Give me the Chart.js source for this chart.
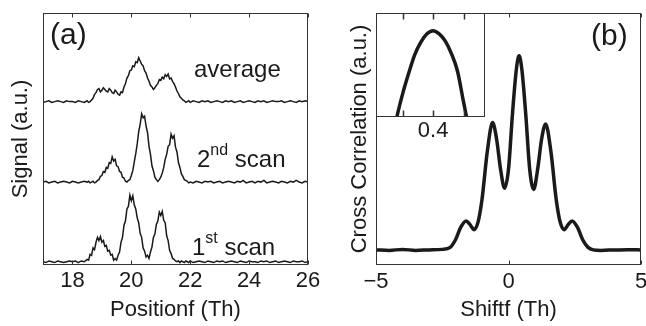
<!DOCTYPE html>
<html>
<head>
<meta charset="utf-8">
<script src="https://cdn.jsdelivr.net/npm/chart.js@4.4.0/dist/chart.umd.min.js"></script>
<style>
html, body { margin: 0; padding: 0; background: #fff; overflow: hidden; }
#wrap { position: relative; width: 646px; height: 326px; overflow: hidden; }
canvas { position: absolute; left: 0; top: 0; }
.lbl { position: absolute; font-family: "Liberation Sans", Arial, Helvetica, sans-serif; color: #1a1a1a; line-height: 1; white-space: nowrap; }
.lbl span { font-size: 16px; vertical-align: 12px; }
</style>
</head>
<body>
<div id="wrap">
  <canvas id="chartA" width="646" height="326"></canvas>
  <canvas id="chartB" width="656" height="326"></canvas>
  <canvas id="chartInset" width="646" height="326"></canvas>
  <div class="lbl" style="left:50px;top:19px;font-size:30px">(a)</div>
  <div class="lbl" style="left:591px;top:20px;font-size:30px">(b)</div>
  <div class="lbl" style="left:194px;top:57px;font-size:24px">average</div>
  <div class="lbl" style="left:197px;top:142px;font-size:24px">2<span>nd</span> scan</div>
  <div class="lbl" style="left:192px;top:230px;font-size:24px">1<span>st</span> scan</div>
</div>
<script>
// ---- panel (a): position axis and the three scans (height above each trace's own baseline)
// coarse sampling on the flat parts, finer across the peaks
const posX = [
  17.0, 17.1, 17.2, 17.3, 17.4, 17.5, 17.6, 17.7, 17.8, 17.9, 18.0, 18.1, 18.2, 18.3, 18.4,
  18.50, 18.55, 18.60, 18.65, 18.70, 18.75, 18.80, 18.85, 18.90, 18.95,
  19.00, 19.05, 19.10, 19.15, 19.20, 19.25, 19.30, 19.35, 19.40, 19.45,
  19.50, 19.55, 19.60, 19.65, 19.70, 19.75, 19.80, 19.85, 19.90, 19.95,
  20.00, 20.05, 20.10, 20.15, 20.20, 20.25, 20.30, 20.35, 20.40, 20.45,
  20.50, 20.55, 20.60, 20.65, 20.70, 20.75, 20.80, 20.85, 20.90, 20.95,
  21.00, 21.05, 21.10, 21.15, 21.20, 21.25, 21.30, 21.35, 21.40, 21.45,
  21.50, 21.55, 21.60, 21.65, 21.70, 21.75, 21.80, 21.85, 21.90, 21.95,
  22.00,
  22.1, 22.2, 22.3, 22.4, 22.5, 22.6, 22.7, 22.8, 22.9,
  23.0, 23.1, 23.2, 23.3, 23.4, 23.5, 23.6, 23.7, 23.8, 23.9,
  24.0, 24.1, 24.2, 24.3, 24.4, 24.5, 24.6, 24.7, 24.8, 24.9,
  25.0, 25.1, 25.2, 25.3, 25.4, 25.5, 25.6, 25.7, 25.8, 25.9,
  26.0
];
const scan1 = [
  .01, .00, .02, .01, .00, .02, .01, .00, .01, .02, .01, .02, .00, .02, .01,
  .04, .03, .10, .09, .18, .16, .25, .31, .27, .32,
  .25, .27, .20, .21, .14, .15, .09, .10, .03, .05,
  .03, .09, .13, .25, .31, .46, .51, .66, .69, .83,
  .76, .82, .71, .66, .55, .49, .36, .31, .18, .14,
  .07, .09, .05, .13, .19, .31, .35, .47, .51, .62,
  .58, .63, .52, .49, .33, .27, .15, .11, .05, .04,
  .02, .01, .02, .00, .02, .01, .00, .02, .01, .00,
  .02,
  .00, .01, .02, .01, .00, .02, .01, .00, .02,
  .01, .02, .00, .01, .02, .01, .00, .02, .01, .00,
  .02, .01, .01, .00, .02, .01, .02, .00, .01, .02,
  .00, .01, .02, .01, .00, .02, .01, .01, .02, .00,
  .01
];
const scan2 = [
  .01, .02, .00, .01, .02, .00, .01, .02, .01, .00, .02, .01, .00, .01, .02,
  .01, .02, .00, .01, .02, .00, .01, .03, .04, .08,
  .09, .14, .13, .19, .18, .25, .24, .32, .27, .29,
  .21, .20, .14, .13, .07, .06, .02, .01, .03, .04,
  .09, .15, .26, .36, .48, .63, .72, .85, .80, .82,
  .70, .62, .45, .35, .21, .15, .07, .04, .02, .04,
  .07, .12, .19, .29, .35, .45, .47, .60, .55, .58,
  .44, .38, .25, .19, .11, .08, .04, .03, .02, .00,
  .01,
  .00, .02, .01, .00, .02, .01, .02, .00, .01,
  .02, .00, .01, .02, .01, .00, .02, .01, .03, .00,
  .01, .02, .00, .02, .01, .03, .00, .01, .02, .01,
  .00, .02, .01, .00, .02, .01, .03, .01, .00, .02,
  .01
];
const average = [
  .00, .01, .02, .00, .01, .02, .01, .00, .02, .01, .01, .00, .02, .01, .00,
  .02, .00, .01, .03, .05, .10, .12, .16, .17, .13,
  .15, .18, .16, .14, .13, .17, .15, .12, .11, .15,
  .13, .10, .09, .13, .12, .19, .23, .30, .33, .39,
  .40, .45, .44, .50, .49, .55, .51, .47, .45, .39,
  .36, .30, .26, .21, .19, .16, .18, .21, .23, .28,
  .27, .31, .29, .34, .32, .35, .29, .30, .26, .23,
  .19, .14, .11, .07, .05, .03, .02, .00, .01, .02,
  .00,
  .02, .01, .00, .02, .01, .02, .00, .01, .02,
  .01, .00, .02, .01, .02, .00, .01, .02, .00, .01,
  .02, .01, .00, .02, .01, .02, .00, .01, .02, .01,
  .01, .02, .00, .01, .02, .01, .00, .02, .01, .02,
  .01
];
const scanBaselines = [0.03, 1.01, 2.0];   // 1st, 2nd, average
const posTicks = [18, 20, 22, 24, 26];

// ---- panel (b): cross correlation vs shift
const shiftX = [-5, -4.5, -4, -3.5, -3, -2.5, -2.2, -2.0, -1.8, -1.6, -1.45, -1.3, -1.15, -1.0, -0.8, -0.6,
  -0.45, -0.3, -0.15, 0.0, 0.15, 0.3, 0.4, 0.5, 0.65, 0.8, 0.95, 1.1, 1.25, 1.4, 1.6, 1.8, 1.95, 2.1,
  2.25, 2.4, 2.6, 2.8, 3.0, 3.2, 3.5, 4, 4.5, 5];
const crossCorr = [.060, .058, .062, .058, .060, .062, .070, .100, .150, .175, .160, .140, .170, .260, .450, .565,
  .500, .380, .305, .380, .600, .780, .830, .780, .600, .380, .300, .380, .500, .560, .450, .260, .170, .140,
  .160, .175, .150, .100, .070, .060, .058, .060, .061, .060];
const shiftTicks = [-5, 0, 5];

// ---- inset: zoom on the main peak
const insetX = [0.26, 0.28, 0.30, 0.32, 0.34, 0.36, 0.38, 0.40, 0.42, 0.44, 0.46, 0.48, 0.50, 0.52, 0.54];
const insetY = [-0.35, -0.02, 0.22, 0.42, 0.60, 0.72, 0.80, 0.83, 0.80, 0.73, 0.61, 0.44, 0.14, -0.14, -0.35];
const insetTicks = [0.3, 0.4, 0.5];

Chart.defaults.font.family = '"Liberation Sans", Arial, Helvetica, sans-serif';
Chart.defaults.font.size = 22;
Chart.defaults.color = '#1a1a1a';

const ink = '#1a1a1a';

// box around the plot area + inward tick marks on top and bottom
const frame = {
  id: 'frame',
  beforeDraw(chart, args, opts) {
    if (!opts.fill) return;
    const {ctx, chartArea: a} = chart;
    ctx.save();
    ctx.fillStyle = '#fff';
    ctx.fillRect(a.left, a.top, a.right - a.left, a.bottom - a.top);
    ctx.restore();
  },
  afterDraw(chart, args, opts) {
    const {ctx, chartArea: a, scales: {x}} = chart;
    const len = opts.tickLen || 4;
    const L = Math.round(a.left) + 0.5, R = Math.round(a.right) - 0.5;
    const T = Math.round(a.top) + 0.5, B = Math.round(a.bottom) - 0.5;
    ctx.save();
    ctx.strokeStyle = '#333';
    ctx.lineWidth = 1;
    ctx.strokeRect(L, T, R - L, B - T);
    ctx.beginPath();
    x.ticks.forEach(t => {
      const px = Math.round(x.getPixelForValue(t.value)) + 0.5;
      ctx.moveTo(px, B); ctx.lineTo(px, B - len);
      ctx.moveTo(px, T); ctx.lineTo(px, T + len);
    });
    ctx.lineWidth = opts.tickWidth || 1;
    ctx.stroke();
    ctx.restore();
  }
};

const xy = (xs, ys, off = 0) => xs.map((x, i) => ({x, y: ys[i] + off}));

const noUi = {legend: {display: false}, tooltip: {enabled: false}};

new Chart(document.getElementById('chartA'), {
  type: 'line',
  data: {
    datasets: [
      {data: xy(posX, scan1, scanBaselines[0])},
      {data: xy(posX, scan2, scanBaselines[1])},
      {data: xy(posX, average, scanBaselines[2])}
    ]
  },
  options: {
    responsive: false,
    animation: false,
    layout: {padding: {left: 0, top: 13, right: 338, bottom: 0}},
    elements: {point: {radius: 0}, line: {borderWidth: 1.5, borderColor: ink, tension: 0}},
    plugins: {...noUi, frame: {tickLen: 4}},
    scales: {
      x: {
        type: 'linear', min: 17, max: 26,
        grid: {display: false, drawTicks: false}, border: {display: false},
        afterBuildTicks: s => { s.ticks = posTicks.map(v => ({value: v})); },
        afterFit: s => { s.height = 61; },
        ticks: {padding: 3},
        title: {display: true, text: 'Positionf (Th)', padding: {top: 0, bottom: 3}}
      },
      y: {
        min: 0, max: 3.1,
        ticks: {display: false}, grid: {display: false, drawTicks: false}, border: {display: false},
        afterFit: s => { s.width = 43; },
        title: {display: true, text: 'Signal (a.u.)', padding: {top: 8, bottom: 0}}
      }
    }
  },
  plugins: [frame]
});

new Chart(document.getElementById('chartB'), {
  type: 'line',
  data: {
    datasets: [{data: xy(shiftX, crossCorr), borderWidth: 3.5, borderColor: ink, cubicInterpolationMode: 'monotone'}]
  },
  options: {
    responsive: false,
    animation: false,
    layout: {padding: {left: 334, top: 13, right: 15, bottom: 0}},
    elements: {point: {radius: 0}},
    plugins: {...noUi, frame: {tickLen: 4}},
    scales: {
      x: {
        type: 'linear', min: -5, max: 5,
        grid: {display: false, drawTicks: false}, border: {display: false},
        afterBuildTicks: s => { s.ticks = shiftTicks.map(v => ({value: v})); },
        afterFit: s => { s.height = 61; },
        ticks: {padding: 4, callback: v => String(v).replace('-', '\u2212')},
        title: {display: true, text: 'Shiftf (Th)', padding: {top: 0, bottom: 3}}
      },
      y: {
        min: 0, max: 1,
        ticks: {display: false}, grid: {display: false, drawTicks: false}, border: {display: false},
        afterFit: s => { s.width = 42; },
        title: {display: true, text: 'Cross Correlation (a.u.)', padding: {top: 13, bottom: 0}}
      }
    }
  },
  plugins: [frame]
});

new Chart(document.getElementById('chartInset'), {
  type: 'line',
  data: {
    datasets: [{data: xy(insetX, insetY), borderWidth: 3.5, borderColor: ink, cubicInterpolationMode: 'monotone'}]
  },
  options: {
    responsive: false,
    animation: false,
    layout: {padding: {left: 376, top: 13, right: 161, bottom: 179}},
    elements: {point: {radius: 0}},
    plugins: {...noUi, frame: {tickLen: 6, tickWidth: 1.5, fill: true}},
    scales: {
      x: {
        type: 'linear', min: 0.213, max: 0.57,
        grid: {display: false, drawTicks: false}, border: {display: false},
        afterBuildTicks: s => { s.ticks = insetTicks.map(v => ({value: v})); },
        afterFit: s => { s.height = 30; },
        ticks: {padding: 1, callback: v => (v === 0.4 ? '0.4' : '')}
      },
      y: {min: 0, max: 1, display: false}
    }
  },
  plugins: [frame]
});
</script>
</body>
</html>
